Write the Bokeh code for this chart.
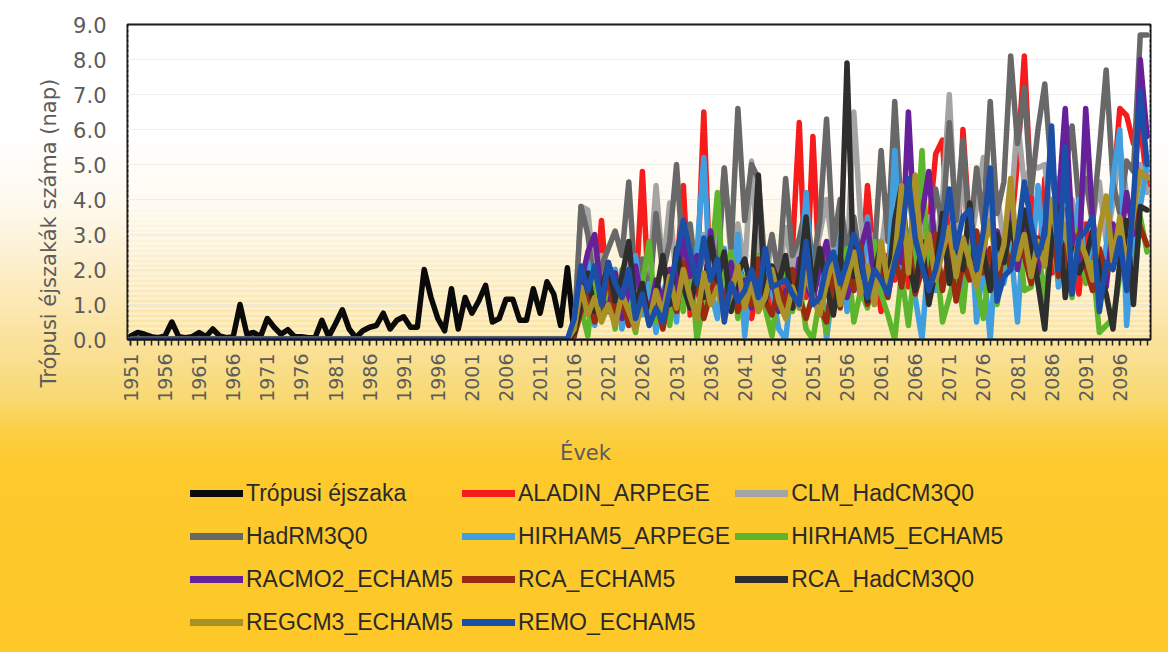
from math import pi

from bokeh.embed import file_html
from bokeh.layouts import column
from bokeh.models import (BoxAnnotation, FixedTicker, Label, Legend, LegendItem,
                          NumeralTickFormatter, Range1d, Title)
from bokeh.plotting import figure
from bokeh.resources import INLINE

# ---------------------------------------------------------------- data
# Observed number of tropical nights per year, 1951-2016
obs_years = list(range(1951, 2017))
observed = [
    0.1, 0.2, 0.15, 0.08, 0.05, 0.1, 0.5, 0.08, 0.05, 0.08,
    0.2, 0.08, 0.3, 0.1, 0.05, 0.08, 1.0, 0.15, 0.2, 0.08,
    0.6, 0.35, 0.15, 0.28, 0.08, 0.08, 0.05, 0.05, 0.55, 0.08,
    0.45, 0.85, 0.3, 0.05, 0.25, 0.35, 0.4, 0.75, 0.3, 0.55,
    0.65, 0.35, 0.35, 2.0, 1.2, 0.6, 0.25, 1.45, 0.3, 1.2,
    0.75, 1.1, 1.55, 0.5, 0.6, 1.15, 1.15, 0.55, 0.55, 1.45,
    0.75, 1.65, 1.3, 0.4, 2.05, 0.1,
]

# Regional climate model projections, 2016-2100 (values before 2016 are zero)
all_years = list(range(1951, 2101))
lead_in = [0.0] * (2016 - 1951)

aladin_arpege = [
    0.3, 1.2, 1.8, 0.8, 3.4,
    1.0, 0.5, 1.5, 0.6, 1.2, 4.8, 0.9, 1.6, 0.4, 1.1,
    1.9, 4.4, 0.7, 1.6, 6.5, 1.3, 2.2, 0.9, 1.8, 2.7,
    1.2, 0.6, 1.5, 2.3, 0.8, 2.0, 1.4, 2.6, 6.2, 1.2,
    5.8, 1.6, 2.4, 0.9, 2.1, 1.3, 2.8, 1.6, 4.4, 2.1,
    0.8, 2.4, 1.7, 3.0, 1.5, 2.6, 1.9, 3.2, 5.3, 5.7,
    2.4, 1.5, 6.0, 3.1, 1.4, 2.3, 4.3, 1.7, 2.4, 3.0,
    5.1, 8.1, 4.1, 1.6, 4.6, 1.9, 2.0, 3.7, 2.2, 1.3,
    3.3, 2.1, 1.2, 2.6, 4.2, 6.6, 6.4, 5.6, 6.2, 4.4,
]
clm_hadcm3q0 = [
    0.2, 3.8, 3.7, 1.6, 2.4,
    1.2, 2.0, 1.1, 2.6, 1.4, 2.2, 1.8, 4.4, 2.0, 3.9,
    1.6, 2.8, 1.4, 2.2, 3.0, 1.7, 2.6, 4.9, 2.3, 3.3,
    2.0, 5.1, 2.2, 1.5, 2.9, 1.8, 3.2, 2.0, 2.6, 3.6,
    2.2, 3.0, 4.0, 2.4, 3.3, 2.1, 6.5, 3.4, 2.0, 3.0,
    2.5, 4.1, 2.7, 3.6, 2.2, 4.4, 2.9, 3.5, 2.6, 4.0,
    7.0, 3.1, 4.6, 2.6, 3.8, 5.2, 3.0, 4.2, 2.7, 3.6,
    6.3, 4.4, 5.0, 4.9, 5.0, 3.3, 4.6, 2.9, 4.0, 3.0,
    5.2, 3.4, 4.5, 2.8, 3.9, 5.6, 4.1, 3.5, 5.0, 4.2,
]
hadrm3q0 = [
    0.2, 3.8, 3.0, 1.4, 2.1,
    2.6, 3.1, 2.4, 4.5, 1.5, 2.3, 1.2, 3.6, 1.9, 2.8,
    5.0, 2.2, 3.3, 1.6, 2.5, 3.1, 1.8, 4.9, 2.6, 6.6,
    3.4, 5.0, 4.6, 2.0, 3.0, 1.8, 4.6, 2.4, 2.9, 3.8,
    2.1, 3.4, 6.3, 2.7, 4.0, 2.5, 3.5, 2.2, 3.0, 2.4,
    5.4, 2.8, 6.8, 3.5, 4.4, 2.6, 3.9, 2.7, 4.3, 3.2,
    6.2, 3.4, 5.7, 2.9, 4.9, 3.3, 6.8, 3.6, 4.5, 8.1,
    5.6, 7.2, 4.2, 6.0, 7.3, 4.7, 3.5, 4.8, 6.1, 3.9,
    4.6, 3.3, 5.4, 7.7, 4.5, 3.6, 5.1, 4.8, 8.7, 8.7,
]
hirham5_arpege = [
    0.3, 1.0, 2.2, 0.4, 1.5,
    0.8, 2.0, 0.3, 1.2, 2.4, 0.7, 1.6, 0.2, 1.3, 2.0,
    0.5, 3.0, 1.1, 2.5, 5.2, 1.4, 0.6, 2.6, 1.0, 3.0,
    0.1, 1.9, 0.8, 2.2, 1.4, 0.3, 0.0, 1.8, 0.9, 4.2,
    1.3, 2.4, 0.0, 1.6, 2.9, 0.8, 2.0, 1.2, 3.5, 1.0,
    2.3, 1.5, 5.4, 2.0, 3.1, 1.2, 0.0, 2.5, 1.4, 3.3,
    1.7, 2.8, 1.0, 3.6, 0.5, 2.2, 0.0, 3.0, 1.6, 2.7,
    0.5, 3.4, 1.9, 4.4, 2.1, 3.9, 1.5, 3.2, 2.4, 4.0,
    1.8, 3.1, 1.3, 2.6, 4.6, 6.0, 0.4, 2.9, 3.8, 5.0,
]
hirham5_echam5 = [
    0.2, 0.9, 0.1, 1.8, 0.6,
    1.4, 0.3, 2.0, 0.9, 0.2, 1.6, 2.8, 0.5, 1.2, 0.4,
    1.9, 0.8, 2.3, 0.0, 1.1, 2.0, 4.2, 1.0, 2.5, 0.6,
    1.8, 1.1, 2.4, 0.9, 0.1, 1.5, 2.2, 0.8, 1.6, 0.3,
    0.0, 1.2, 0.2, 2.0, 1.0, 2.6, 0.5, 1.4, 0.9, 2.8,
    1.3, 0.7, 0.0, 1.9, 0.4, 2.2, 5.4, 1.5, 2.6, 0.5,
    1.2, 2.0, 0.8, 2.9, 1.6, 0.6, 2.3, 1.0, 2.5, 2.0,
    3.3, 1.4, 1.5, 2.7, 1.1, 3.0, 1.8, 2.4, 1.2, 3.2,
    1.6, 2.2, 0.2, 0.4, 0.6, 1.8, 2.6, 1.3, 3.5, 2.5,
]
racmo2_echam5 = [
    0.4, 1.6, 2.5, 3.0, 1.2,
    0.8, 1.9, 0.6, 1.4, 2.1, 1.0, 0.7, 1.7, 1.1, 2.0,
    1.4, 2.9, 1.8, 2.4, 1.2, 3.1, 1.5, 0.9, 2.2, 1.3,
    1.7, 0.9, 2.0, 1.2, 1.8, 0.8, 1.4, 0.9, 2.3, 1.6,
    1.1, 2.1, 2.8, 1.5, 2.4, 1.2, 1.9, 2.6, 3.3, 1.7,
    2.5, 1.4, 3.0, 2.2, 6.5, 2.8, 3.6, 4.8, 2.4, 3.3,
    1.8, 2.9, 2.2, 3.5, 2.0, 2.7, 1.6, 3.1, 2.3, 3.8,
    2.0, 3.4, 2.6, 1.9, 3.2, 2.4, 3.9, 6.6, 3.1, 2.2,
    6.6, 3.5, 2.0, 1.5, 3.3, 2.6, 4.2, 3.0, 8.0, 5.8,
]
rca_echam5 = [
    0.1, 0.8, 1.3, 0.5, 1.0,
    1.8, 0.7, 1.2, 0.4, 0.9, 1.5, 0.6, 1.1, 0.3, 1.4,
    0.8, 2.2, 1.0, 1.7, 0.6, 1.3, 2.0, 0.9, 1.6, 0.8,
    1.4, 1.0, 2.3, 1.1, 0.7, 1.5, 0.9, 2.0, 1.2, 0.6,
    1.3, 0.9, 0.5, 1.8, 0.9, 2.2, 1.4, 2.7, 1.0, 1.6,
    2.1, 1.2, 2.4, 1.5, 2.9, 1.3, 2.0, 1.6, 3.0, 1.4,
    2.5, 1.1, 2.2, 1.7, 3.1, 1.9, 2.6, 1.3, 2.8, 2.0,
    3.2, 2.4, 1.6, 2.9, 2.2, 3.6, 1.8, 2.7, 1.5, 3.0,
    2.1, 1.4, 2.6, 1.9, 2.3, 3.0, 2.0, 3.8, 3.2, 2.7,
]
rca_hadcm3q0 = [
    0.2, 1.0, 1.9, 0.8, 1.4,
    2.2, 1.1, 1.8, 2.8, 0.9, 1.6, 0.5, 1.3, 2.4, 1.0,
    2.6, 1.5, 0.9, 2.0, 1.2, 2.9, 1.7, 2.5, 0.8, 1.9,
    2.3, 1.4, 4.7, 1.1, 2.1, 1.6, 2.4, 0.9, 1.8, 3.5,
    1.4, 2.6, 1.5, 0.7, 2.0, 7.9, 1.8, 2.3, 1.1, 1.9,
    2.7, 1.5, 3.4, 4.4, 2.2, 1.4, 2.8, 1.0, 2.0, 3.6,
    1.6, 2.9, 2.0, 3.9, 1.8, 2.5, 1.4, 3.0, 2.2, 3.3,
    2.4, 3.7, 2.8, 1.6, 0.3, 2.9, 3.8, 1.2, 2.6, 1.9,
    2.3, 3.1, 2.0, 1.3, 0.3, 2.2, 3.4, 1.0, 3.8, 3.7,
]
regcm3_echam5 = [
    0.3, 1.5, 0.7, 1.2, 0.5,
    1.0, 0.4, 1.3, 0.8, 0.3, 1.1, 0.5, 1.4, 0.7, 1.8,
    0.9, 2.0, 1.2, 0.6, 1.9, 1.0, 1.5, 0.7, 1.3, 2.1,
    0.9, 1.6, 0.8, 1.2, 2.0, 1.1, 0.6, 1.5, 0.9, 1.9,
    1.2, 0.7, 1.6, 2.3, 1.0, 1.7, 2.5, 1.3, 2.1, 1.0,
    2.8, 1.6, 2.3, 4.4, 1.9, 4.7, 2.2, 3.0, 1.7, 2.5,
    3.2, 1.8, 2.9, 2.2, 1.5, 2.6, 3.4, 2.0, 2.7, 4.6,
    2.3, 3.0, 1.8, 2.8, 2.1, 4.0, 2.6, 3.3, 1.9, 2.9,
    2.4, 1.7, 3.1, 4.1, 2.2, 3.5, 2.0, 3.6, 4.8, 4.6,
]
remo_echam5 = [
    0.6, 2.1, 1.4, 2.1, 1.0,
    2.2, 1.6, 1.2, 2.0, 0.6, 1.3, 0.4, 0.9, 0.5, 1.4,
    2.4, 3.4, 2.5, 1.6, 2.9, 1.7, 2.3, 0.5, 1.6, 1.1,
    1.4, 2.0, 1.2, 2.6, 1.5, 1.6, 1.7, 1.3, 1.0, 2.8,
    1.0, 1.2, 2.1, 2.5, 1.6, 2.2, 3.0, 2.4, 1.2, 2.0,
    1.7, 1.3, 2.2, 2.9, 4.6, 2.9, 2.1, 1.4, 2.0, 2.9,
    4.3, 2.6, 3.5, 3.7, 2.0, 3.1, 4.9, 1.1, 1.8, 2.0,
    2.9, 4.5, 3.3, 2.4, 3.0, 6.1, 2.0, 5.5, 1.3, 2.9,
    3.1, 3.5, 0.8, 2.2, 2.0, 2.9, 1.4, 4.0, 7.1, 5.0,
]

OBS_NAME, OBS_COLOR = "Trópusi éjszaka", "#0a0a0a"
series = [
    ("ALADIN_ARPEGE", aladin_arpege, "#f71c1c"),
    ("CLM_HadCM3Q0", clm_hadcm3q0, "#a4a4a4"),
    ("HadRM3Q0", hadrm3q0, "#686868"),
    ("HIRHAM5_ARPEGE", hirham5_arpege, "#419fe0"),
    ("HIRHAM5_ECHAM5", hirham5_echam5, "#5db52d"),
    ("RACMO2_ECHAM5", racmo2_echam5, "#65209a"),
    ("RCA_ECHAM5", rca_echam5, "#992c10"),
    ("RCA_HadCM3Q0", rca_hadcm3q0, "#2e2e2e"),
    ("REGCM3_ECHAM5", regcm3_echam5, "#a99128"),
    ("REMO_ECHAM5", remo_echam5, "#1b4ea6"),
]

y_ticks = [0, 1, 2, 3, 4, 5, 6, 7, 8, 9]
x_label_years = list(range(1951, 2097, 5))

# ---------------------------------------------------------------- styling
AXIS_FONT = "DejaVu Sans"
TEXT_GRAY = "#5c5c5c"
LINE_W = 5.5
PAGE_W, TOP_H, BOTTOM_H = 1168, 404, 248
BACKGROUND = (
    "linear-gradient(to bottom, #ffffff 0px, #ffffff 130px, #fffaf0 200px, "
    "#fdf0d0 260px, #fbe5a8 320px, #f9df90 360px, #f8d870 400px, "
    "#fbd045 430px, #fdc92c 465px, #fdc828 652px)"
)

# ---------------------------------------------------------------- chart
p = figure(
    width=PAGE_W, height=TOP_H,
    x_range=Range1d(1950.5, 2100.5), y_range=Range1d(0, 9),
    output_backend="svg", toolbar_location=None,
    min_border_left=127, min_border_right=18,
    min_border_top=24, min_border_bottom=TOP_H - 339,
)
p.border_fill_alpha = 0
p.background_fill_alpha = 0
p.outline_line_color = "#111111"
p.outline_line_width = 2

# faint scan-like striping of the plotting area
p.add_layout(BoxAnnotation(
    bottom=0, top=9, fill_alpha=0, line_alpha=0, level="underlay",
    hatch_pattern="horizontal_line", hatch_color="white",
    hatch_alpha=0.45, hatch_scale=5, hatch_weight=2,
))

p.xgrid.grid_line_color = None
p.ygrid.ticker = FixedTicker(ticks=y_ticks)
p.ygrid.grid_line_color = "#dcdcdc"
p.ygrid.grid_line_alpha = 0.6
p.ygrid.grid_line_width = 1

# x axis: a tick at every year, labels every fifth year
p.xaxis.ticker = FixedTicker(ticks=x_label_years, minor_ticks=all_years)
p.xaxis.major_label_orientation = pi / 2
p.xaxis.major_label_standoff = 8
p.xaxis.major_label_text_font = AXIS_FONT
p.xaxis.major_label_text_font_size = "19px"
p.xaxis.major_label_text_color = TEXT_GRAY
p.xaxis.axis_line_color = "#111111"
p.xaxis.axis_line_width = 2
p.xaxis.major_tick_out = 6
p.xaxis.major_tick_in = 0
p.xaxis.minor_tick_out = 6
p.xaxis.minor_tick_in = 0
p.xaxis.major_tick_line_color = "#222222"
p.xaxis.minor_tick_line_color = "#222222"
p.xaxis.major_tick_line_width = 1.5
p.xaxis.minor_tick_line_width = 1.5

p.yaxis.ticker = FixedTicker(ticks=y_ticks)
p.yaxis.formatter = NumeralTickFormatter(format="0.0")
p.yaxis.major_label_standoff = 21
p.yaxis.major_label_text_font = AXIS_FONT
p.yaxis.major_label_text_font_size = "21px"
p.yaxis.major_label_text_color = TEXT_GRAY
p.yaxis.axis_line_color = None
p.yaxis.major_tick_out = 0
p.yaxis.major_tick_in = 0
p.yaxis.minor_tick_line_color = None

# vertical axis title, set in the left side panel
p.add_layout(Title(
    text="Trópusi éjszakák száma (nap)", align="left", offset=-48, standoff=20,
    text_font=AXIS_FONT, text_font_size="21px", text_font_style="normal",
    text_color=TEXT_GRAY,
), "left")

p.line(obs_years, observed, line_color=OBS_COLOR, line_width=LINE_W,
       line_join="round", line_cap="round")
for name, vals, color in series:
    p.line(all_years, lead_in + vals, line_color=color, line_width=LINE_W,
           line_join="round", line_cap="round")

# ---------------------------------------------------------------- x title + legend strip
# this strip's frame is aligned with the chart's frame (x from 127 to 1150 px)
pb = figure(
    width=PAGE_W, height=BOTTOM_H,
    x_range=Range1d(127, 1150), y_range=Range1d(0, BOTTOM_H),
    output_backend="svg", toolbar_location=None,
    x_axis_location=None, y_axis_location=None,
    min_border=0, outline_line_color=None,
)
pb.border_fill_alpha = 0
pb.background_fill_alpha = 0
pb.grid.visible = False

pb.add_layout(Label(
    x=585, y=200, text="Évek", text_align="center", text_baseline="middle",
    text_font=AXIS_FONT, text_font_size="21px", text_color=TEXT_GRAY,
))

# legend keys: single undefined points, so only the key swatch is drawn
nan = float("nan")
items = []
key = pb.line([nan], [nan], line_color=OBS_COLOR, line_width=7, line_cap="round")
items.append(LegendItem(label=OBS_NAME, renderers=[key]))
for name, vals, color in series:
    key = pb.line([nan], [nan], line_color=color, line_width=7, line_cap="round")
    items.append(LegendItem(label=name, renderers=[key]))

pb.add_layout(Legend(
    items=items, orientation="horizontal", ncols=3,
    location=(63, 11),
    glyph_width=53, glyph_height=38, label_height=38, label_width=211,
    label_standoff=3, spacing=5, padding=0, margin=0,
    background_fill_alpha=0, border_line_alpha=0,
    label_text_font="Liberation Sans", label_text_font_size="23px",
    label_text_color="#2a2a2a",
))

page = column(p, pb, spacing=0)
page.styles = {"background": BACKGROUND}

open("out.html", "w").write(file_html(page, INLINE))
